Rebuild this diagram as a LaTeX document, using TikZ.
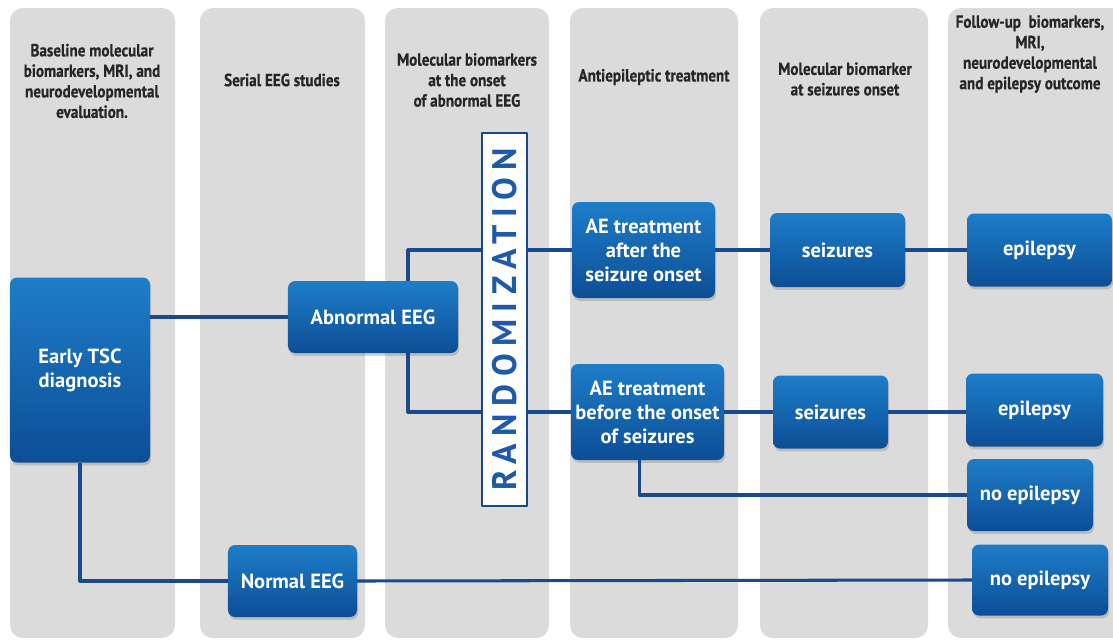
\documentclass[tikz,border=0pt]{standalone}
\usepackage{fontspec}
\newfontfamily\hdfont[FakeStretch=0.86,BoldFont={PT Sans Bold},BoldFeatures={FakeStretch=0.86,FakeBold=0.6}]{PT Sans}
\newfontfamily\boxfont{PT Sans}
\usetikzlibrary{calc,shadows}
\definecolor{colgray}{RGB}{219,219,219}
\definecolor{boxtop}{RGB}{30,125,200}
\definecolor{boxbot}{RGB}{12,78,150}
\definecolor{linkblue}{RGB}{26,74,138}
\definecolor{randblue}{RGB}{30,90,168}
\tikzset{
 bluebox/.style={rounded corners=6pt,top color=boxtop,bottom color=boxbot,text=white,align=center,inner sep=0pt,font=\boxfont\bfseries\fontsize{17.5}{20.5}\selectfont,drop shadow={shadow xshift=1pt,shadow yshift=-2.5pt,opacity=0.35}},
 head/.style={align=center,text=black!85,font=\hdfont\bfseries\fontsize{15}{17.5}\selectfont},
 link/.style={draw=linkblue,line width=2.6pt}
}
\begin{document}
\begin{tikzpicture}[x=0.03cm,y=-0.03cm,line join=round]
\clip(0,0)rectangle(1113,641);
\fill[white](0,0)rectangle(1113,641);
\foreach \cx/\w in {10/165,200/165,385/164,570/168,760/168,948/180}
 \fill[colgray,rounded corners=11pt](\cx,8)rectangle++(\w,630);
\node[head](hd1)at(92,81){Baseline molecular\\biomarkers, MRI, and\\neurodevelopmental\\evaluation.};
\node[head](hd2)at(282,80){Serial EEG studies};
\node[head](hd3)at(467,80){Molecular biomarkers\\at the onset\\of abnormal EEG};
\node[head](hd4)at(654,77){Antiepileptic treatment};
\node[head](hd5)at(845,79){Molecular biomarker\\at seizures onset};
\node[head](hd6)at(1030,54){Follow-up\ \ biomarkers,\\MRI,\\neurodevelopmental\\and epilepsy outcome};
\node[bluebox,minimum width=4.2cm,minimum height=5.55cm](tsc)at(80,370){Early TSC\\diagnosis};
\node[bluebox,minimum width=5.1cm,minimum height=2.16cm](abn)at(373,317){Abnormal EEG};
\node[bluebox,minimum width=3.87cm,minimum height=2.16cm](normal)at(292.5,581){Normal EEG};
\node[draw=randblue!80!black,line width=1.2pt,fill=white,minimum width=1.35cm,minimum height=11.19cm,inner sep=0pt](rand)at(504.5,319.5){};
\path(rand)node[rotate=90,text=randblue,font=\boxfont\bfseries\fontsize{29}{29}\selectfont\addfontfeature{LetterSpace=22}](randtxt){RANDOMIZATION};
\node[bluebox,minimum width=4.29cm,minimum height=2.88cm](aeafter)at(643.5,250){AE treatment\\after the\\seizure onset};
\node[bluebox,minimum width=4.59cm,minimum height=2.88cm](aebefore)at(647.5,412){AE treatment\\before the onset\\of seizures};
\node[bluebox,minimum width=4.05cm,minimum height=2.22cm](seizA)at(837.5,250){seizures};
\node[bluebox,minimum width=3.45cm,minimum height=2.19cm](seizB)at(830.5,412){seizures};
\node[bluebox,minimum width=4.35cm,minimum height=2.19cm](epiA)at(1039.5,250){epilepsy};
\node[bluebox,minimum width=4.11cm,minimum height=2.19cm](epiB)at(1034.5,410){epilepsy};
\node[bluebox,minimum width=3.78cm,minimum height=2.16cm](noepiA)at(1030,495){no epilepsy};
\node[bluebox,minimum width=4.08cm,minimum height=2.13cm](noepiB)at(1040,580){no epilepsy};
\draw[link](tsc.east|-abn)--(abn.west);
\draw[link]($(abn.north)+(35,0)$)|-(rand.west|-aeafter);
\draw[link]($(abn.south)+(35,0)$)|-(rand.west|-aebefore);
\draw[link](rand.east|-aeafter)--(aeafter.west);
\draw[link](rand.east|-aebefore)--(aebefore.west);
\draw[link](aeafter.east)--(seizA.west)(seizA.east)--(epiA.west);
\draw[link](aebefore.east)--(seizB.west)(seizB.east)--(seizB.east-|epiB.west);
\draw[link]($(aebefore.south)+(-8,0)$)|-(noepiA.west);
\draw[link](tsc.south)|-(normal.west);
\draw[link](normal.east)--(noepiB.west);
\end{tikzpicture}
\end{document}
